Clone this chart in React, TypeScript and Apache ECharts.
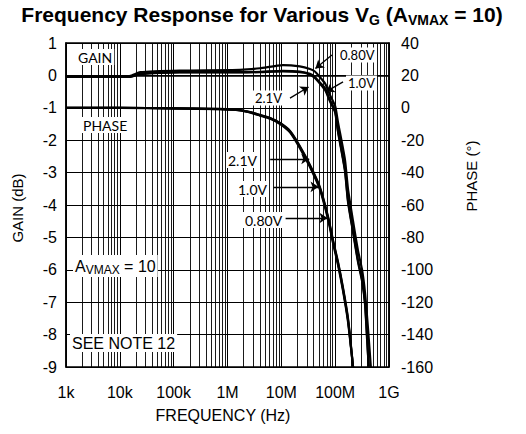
import React, { useEffect, useRef } from 'react';
import * as echarts from 'echarts';

const xTickLabels = ['1k', '10k', '100k', '1M', '10M', '100M', '1G'];

// Gain curves (dB) vs frequency (Hz)
const gainFreqA = [1e3, 1.5e4, 2.4e4, 1.3e5, 1.7e6, 4e6, 1.07e7, 2.2e7, 3.4e7, 4.2e7, 5.2e7, 6.5e7, 8e7, 1e8, 1.13e8, 1.52e8, 1.73e8, 2.15e8, 2.65e8, 3.16e8, 3.58e8, 4.07e8, 4.6e8];
const gain080 = [-0.02, -0.02, 0.1, 0.15, 0.17, 0.22, 0.32, 0.28, 0.2, 0.12, -0.05, -0.25, -0.6, -0.95, -1.45, -2.6, -3.5, -4.5, -5.4, -6.0, -6.7, -7.8, -9.0];
const gainFreqB = [1e3, 1.5e4, 2.4e4, 1.3e5, 1.7e6, 4e6, 1.07e7, 2.2e7, 3.4e7, 4.2e7, 5.2e7, 6.5e7, 8e7, 1e8, 1.13e8, 1.52e8, 1.73e8, 2.15e8, 2.65e8, 3.16e8, 3.58e8, 3.9e8, 4.2e8];
const gain10 = [-0.04, -0.04, 0.05, 0.1, 0.1, 0.11, 0.14, 0.12, 0.05, -0.05, -0.22, -0.4, -0.76, -1.1, -1.7, -2.9, -3.85, -4.8, -5.7, -6.3, -7.0, -8.0, -9.0];
const gain21 = [-0.05, -0.05, 0.04, 0.09, 0.09, 0.1, 0.12, 0.1, 0.03, -0.08, -0.25, -0.45, -0.8, -1.15, -1.75, -2.95, -3.9, -4.85, -5.75, -6.35, -7.05, -8.1, -9.0];

// Phase curves (degrees) vs frequency (Hz)
const phaseFreq = [1e3, 1e4, 1e5, 7.3e5, 1.7e6, 2.6e6, 4e6, 6.2e6, 9.5e6, 1.45e7, 2.2e7, 3.4e7, 5.2e7, 7.4e7, 9.1e7, 1.13e8, 1.4e8, 1.73e8, 2.15e8];
const phase080 = [0, 0, -0.3, -0.7, -1.4, -2.6, -4.4, -6.3, -9.4, -14.3, -23.6, -35.3, -48.9, -67.4, -81.6, -95.2, -111.2, -129.8, -160];
const phase10 = [0, 0, -0.3, -0.8, -1.5, -2.7, -4.5, -6.5, -9.6, -14.6, -24.0, -35.8, -49.5, -68.0, -82.3, -96.0, -112.0, -130.8, -160];
const phase21 = [0, 0, -0.4, -0.9, -1.6, -2.9, -4.8, -6.8, -10.0, -15.2, -24.8, -36.5, -50.3, -69.0, -83.3, -97.0, -113.0, -132.0, -160];

// Arrow annotations in data coordinates (frequency, gain-axis value)
const arrowFrom = [[8.7e7, 0.63], [1.4e8, -0.2], [1.45e7, -0.7], [6.2e6, -2.58], [7.2e6, -3.44], [1.2e7, -4.4]];
const arrowTo = [[4.3e7, 0.21], [6.8e7, -0.5], [3.2e7, -0.36], [3.3e7, -2.58], [4.9e7, -3.44], [7.2e7, -4.4]];

const minorMultipliers = [2, 3, 4, 5, 6, 7, 8, 9];
const decades = [1e3, 1e4, 1e5, 1e6, 1e7, 1e8];

const pairs = (xs: number[], ys: number[]) => xs.map((x, i) => [x, ys[i]]);

const AR = 'Liberation Sans';
const CAL = 'Lato';

export default function App() {
  const ref = useRef<HTMLDivElement>(null);
  useEffect(() => {
    if (!ref.current) return;
    const chart = echarts.init(ref.current, undefined, { renderer: 'svg' });
    const minorFreqs: number[] = [];
    decades.forEach((d) => minorMultipliers.forEach((m) => minorFreqs.push(d * m)));

    const curve = (name: string, data: number[][], yAxisIndex: number, extra: any = {}) => ({
      name,
      type: 'line',
      yAxisIndex,
      data,
      symbol: 'none',
      smooth: 0.2,
      lineStyle: { color: '#000', width: 2.2 },
      z: 5,
      ...extra,
    });

    const label = (text: string, x: number, y: number, font: string, size: number, rich?: any) => ({
      type: 'text',
      x,
      y,
      z: 100,
      style: {
        text,
        fontFamily: font,
        fontSize: size,
        fill: '#000',
        backgroundColor: '#fff',
        padding: [1, 2, 1, 2],
        align: 'left',
        verticalAlign: 'middle',
        rich,
      },
    });

    const option: any = {
      animation: false,
      backgroundColor: '#fff',
      grid: {
        left: 66,
        right: 137,
        top: 43,
        bottom: 67,
        show: true,
        borderColor: '#000',
        borderWidth: 1.5,
        backgroundColor: 'transparent',
      },
      xAxis: {
        type: 'log',
        logBase: 10,
        min: 1e3,
        max: 1e9,
        splitNumber: 6,
        axisLine: { show: true, lineStyle: { color: '#000', width: 1.5 } },
        axisTick: { show: false },
        axisLabel: {
          color: '#000',
          fontFamily: AR,
          fontSize: 16,
          margin: 17,
          formatter: (v: number) => xTickLabels[Math.round(Math.log10(v)) - 3] ?? '',
        },
        splitLine: { show: true, lineStyle: { color: '#000', width: 1 } },
      },
      yAxis: [
        {
          type: 'value',
          min: -9,
          max: 1,
          interval: 1,
          position: 'left',
          axisLine: { show: true, lineStyle: { color: '#000', width: 1.5 } },
          axisTick: { show: false },
          axisLabel: { color: '#000', fontFamily: AR, fontSize: 16, margin: 9 },
          splitLine: { show: true, lineStyle: { color: '#000', width: 1 } },
        },
        {
          type: 'value',
          min: -160,
          max: 40,
          interval: 20,
          position: 'right',
          axisLine: { show: true, lineStyle: { color: '#000', width: 1.5 } },
          axisTick: { show: false },
          axisLabel: { color: '#000', fontFamily: AR, fontSize: 16, margin: 12 },
          splitLine: { show: false },
        },
      ],
      series: [
        {
          type: 'line',
          yAxisIndex: 0,
          data: [],
          silent: true,
          z: 1,
          markLine: {
            silent: true,
            symbol: ['none', 'none'],
            label: { show: false },
            lineStyle: { color: '#000', width: 0.9, type: 'solid' },
            data: minorFreqs.map((f) => ({ xAxis: f })),
          },
        },
        curve('gain 0.80V', pairs(gainFreqA, gain080), 0, {
          markLine: {
            silent: true,
            symbol: ['none', 'arrow'],
            symbolSize: 8,
            label: { show: false },
            lineStyle: { color: '#000', width: 1.3, type: 'solid' },
            data: arrowFrom.map((f, i) => [{ coord: f }, { coord: arrowTo[i] }]),
          },
        }),
        curve('gain 1.0V', pairs(gainFreqB, gain10), 0),
        curve('gain 2.1V', pairs(gainFreqB, gain21), 0),
        curve('phase 0.80V', pairs(phaseFreq, phase080), 1),
        curve('phase 1.0V', pairs(phaseFreq, phase10), 1),
        curve('phase 2.1V', pairs(phaseFreq, phase21), 1),
      ],
      graphic: [
        {
          type: 'text',
          x: 262,
          y: 14,
          z: 100,
          style: {
            text: '{a|Frequency Response for Various V}{s|G}{a| (A}{s|VMAX}{a| = 10)}',
            align: 'center',
            verticalAlign: 'middle',
            rich: {
              a: { fontFamily: AR, fontWeight: 'bold', fontSize: 21, lineHeight: 26, verticalAlign: 'middle', fill: '#000' },
              s: { fontFamily: AR, fontWeight: 'bold', fontSize: 14, lineHeight: 15, verticalAlign: 'bottom', fill: '#000' },
            },
          },
        },
        {
          type: 'text',
          x: 17,
          y: 208,
          rotation: Math.PI / 2,
          style: { text: 'GAIN (dB)', fontFamily: AR, fontSize: 15, fill: '#000', align: 'center', verticalAlign: 'middle' },
        },
        {
          type: 'text',
          x: 471,
          y: 176,
          rotation: Math.PI / 2,
          style: { text: 'PHASE (°)', fontFamily: AR, fontSize: 15, fill: '#000', align: 'center', verticalAlign: 'middle' },
        },
        {
          type: 'text',
          x: 223,
          y: 415,
          style: { text: 'FREQUENCY (Hz)', fontFamily: AR, fontSize: 16, fill: '#000', align: 'center', verticalAlign: 'middle' },
        },
        label('GAIN', 76, 57, CAL, 14),
        label('PHASE', 81, 125, CAL, 14),
        label('{n|A}{s|VMAX}{n| = 10}', 73, 266, AR, 16, {
          n: { fontFamily: AR, fontSize: 16, lineHeight: 20, verticalAlign: 'middle', fill: '#000' },
          s: { fontFamily: AR, fontSize: 12, lineHeight: 14, verticalAlign: 'bottom', fill: '#000' },
        }),
        label('SEE NOTE 12', 70, 343, AR, 16),
        label('0.80V', 338, 55, CAL, 13),
        label('1.0V', 346, 83, CAL, 13),
        label('2.1V', 253, 98, CAL, 13),
        label('2.1V', 226, 160, CAL, 14),
        label('1.0V', 236, 189, CAL, 14),
        label('0.80V', 243, 220, CAL, 14),
      ],
    };
    chart.setOption(option);
    return () => chart.dispose();
  }, []);
  return <div ref={ref} style={{ position: 'fixed', left: 0, top: 0, width: 526, height: 434 }} />;
}
